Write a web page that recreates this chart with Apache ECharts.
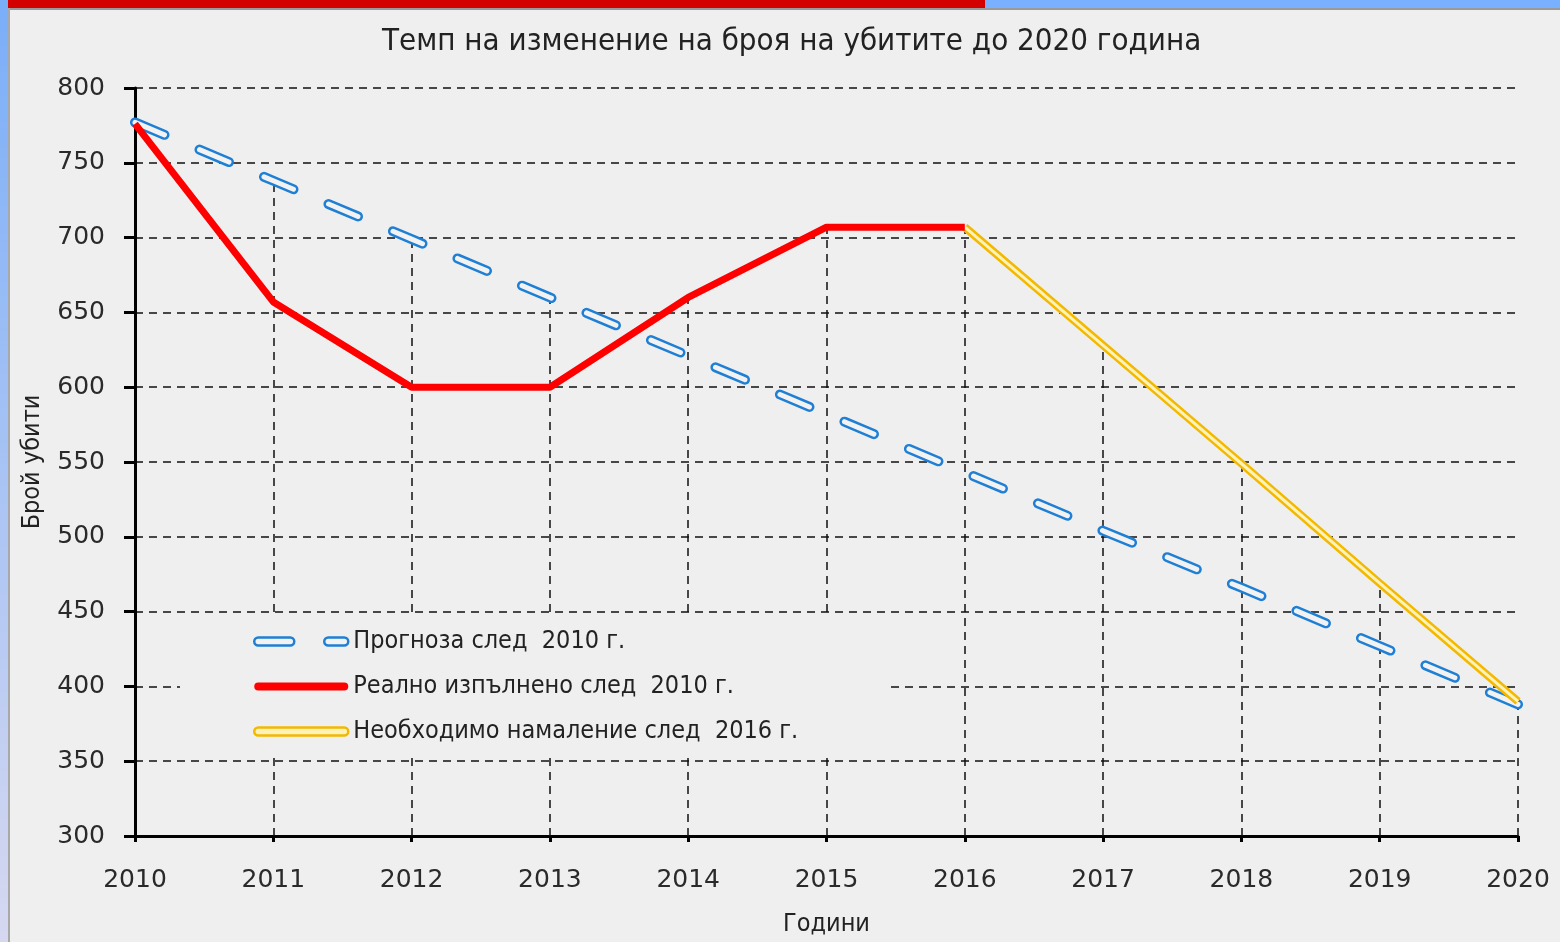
<!DOCTYPE html>
<html>
<head>
<meta charset="utf-8">
<script src="https://cdn.jsdelivr.net/npm/echarts@6/dist/echarts.min.js"></script>
<style>
  html, body { margin: 0; padding: 0; background: #efefef; }
  #chart { width: 1560px; height: 942px; }
</style>
</head>
<body>
<div id="chart"></div>
<script>
// години
const years = ["2010", "2011", "2012", "2013", "2014", "2015", "2016", "2017", "2018", "2019", "2020"];
// Прогноза след 2010 г.
const forecast = [777, 738, 699, 660, 621, 582, 543, 504, 466, 427, 388];
// Реално изпълнено след 2010 г.
const actual = [776, 657, 600, 600, 660, 707, 707, null, null, null, null];
// Необходимо намаление след 2016 г.
const needed = [null, null, null, null, null, null, 707, 628, 549, 469, 390];

const yTicks = { min: 300, max: 800, interval: 50 };

const narrow = '"Liberation Sans Narrow", "DejaVu Sans Condensed", Arial, sans-serif';
const numFont = '"DejaVu Sans", Verdana, sans-serif';

// вертикални пунктирани линии до най-високата точка за годината
const dropLines = years.map((y, i) => {
  const vals = [forecast[i], actual[i], needed[i]].filter((v) => v != null);
  const top = Math.max(...vals);
  return [{ coord: [y, yTicks.min] }, { coord: [y, top] }];
}).slice(1);

const capsule = (x0, x1) =>
  `M${x0 + 4},0 L${x1 - 4},0 A4,4 0 0 1 ${x1 - 4},8 L${x0 + 4},8 A4,4 0 0 1 ${x0 + 4},0 Z`;

let chart = echarts.init(document.getElementById("chart"));
let option = {
  backgroundColor: "#efefef",
  animation: false,
  title: {
    text: "Темп на изменение на броя на убитите до 2020 година",
    left: 377,
    top: 21,
    textStyle: { fontFamily: narrow, fontSize: 31, fontWeight: "normal", color: "#222" },
  },
  graphic: [
    { type: "rect", left: 0, top: 0, shape: { width: 985, height: 8 }, style: { fill: "#d40000" }, z: 10 },
    { type: "rect", left: 985, top: 0, shape: { width: 575, height: 8 }, style: { fill: "#79b0ff" }, z: 10 },
    { type: "rect", left: 0, top: 8, shape: { width: 1560, height: 2 }, style: { fill: "#9a9a9a" }, z: 10 },
    {
      type: "rect", left: 0, top: 0, shape: { width: 8, height: 942 }, z: 11,
      style: {
        fill: new echarts.graphic.LinearGradient(0, 0, 0, 1, [
          { offset: 0, color: "#7aaef8" },
          { offset: 1, color: "#d6d8f0" },
        ]),
      },
    },
    { type: "rect", left: 8, top: 8, shape: { width: 2, height: 934 }, style: { fill: "#a8a8a8" }, z: 11 },
  ],
  legend: {
    orient: "vertical",
    left: 180,
    top: 614,
    padding: [15, 90, 8, 73],
    itemWidth: 94,
    itemHeight: 9,
    itemGap: 20,
    backgroundColor: "#efefef",
    textStyle: { fontFamily: narrow, fontSize: 25, color: "#222" },
    data: [
      {
        name: "Прогноза след  2010 г.",
        icon: "path://" + capsule(0, 40) + " " + capsule(70, 94),
        itemStyle: { color: "#f2f2f2", borderColor: "#1f7fd4", borderWidth: 2.5 },
      },
      {
        name: "Реално изпълнено след  2010 г.",
        icon: "path://" + capsule(0, 94),
        itemStyle: { color: "#ff0000", borderWidth: 0 },
      },
      {
        name: "Необходимо намаление след  2016 г.",
        icon: "path://" + capsule(0, 94),
        itemStyle: { color: "#fff2b8", borderColor: "#f2b900", borderWidth: 2.5 },
      },
    ],
  },
  grid: { left: 135, right: 42, top: 88, bottom: 97 },
  xAxis: {
    type: "category",
    data: years,
    boundaryGap: false,
    name: "Години",
    nameLocation: "middle",
    nameGap: 76,
    nameTextStyle: { fontFamily: narrow, fontSize: 25, color: "#222" },
    axisLine: { lineStyle: { color: "#000", width: 3 } },
    axisTick: { show: true, length: 6, lineStyle: { color: "#000", width: 3 } },
    axisLabel: { margin: 32, fontFamily: numFont, fontSize: 25, color: "#2a2a2a", interval: 0 },
    splitLine: { show: false },
  },
  yAxis: {
    type: "value",
    min: yTicks.min,
    max: yTicks.max,
    interval: yTicks.interval,
    name: "Брой убити",
    nameLocation: "middle",
    nameRotate: 90,
    nameGap: 90,
    nameTextStyle: { fontFamily: narrow, fontSize: 25, color: "#222" },
    axisLine: { show: true, lineStyle: { color: "#000", width: 3 } },
    axisTick: { show: true, length: 11, lineStyle: { color: "#000", width: 3 } },
    axisLabel: { margin: 30, fontFamily: numFont, fontSize: 25, color: "#2a2a2a" },
    splitLine: { show: true, lineStyle: { color: "#111", width: 1.5, type: [8, 6] } },
  },
  series: [
    {
      name: "Прогноза след  2010 г.",
      type: "line",
      data: forecast,
      symbol: "none",
      z: 3,
      lineStyle: { color: "#1f7fd4", width: 10, type: [32, 38], cap: "round" },
      markLine: {
        silent: true,
        symbol: "none",
        label: { show: false },
        lineStyle: { color: "#111", width: 1.5, type: [8, 6] },
        data: dropLines,
        z: 1,
      },
    },
    {
      name: "forecast-inner",
      type: "line",
      data: forecast,
      symbol: "none",
      z: 4,
      lineStyle: { color: "#f2f2f2", width: 5, type: [32, 38], cap: "round" },
    },
    {
      name: "Реално изпълнено след  2010 г.",
      type: "line",
      data: actual,
      symbol: "none",
      z: 6,
      lineStyle: { color: "#ff0000", width: 7 },
    },
    {
      name: "Необходимо намаление след  2016 г.",
      type: "line",
      data: needed,
      symbol: "none",
      z: 5,
      lineStyle: { color: "#f2b900", width: 8 },
    },
    {
      name: "needed-inner",
      type: "line",
      data: needed,
      symbol: "none",
      z: 5,
      lineStyle: { color: "#fff2b8", width: 3 },
    },
  ],
};
option && chart.setOption(option);
</script>
</body>
</html>
